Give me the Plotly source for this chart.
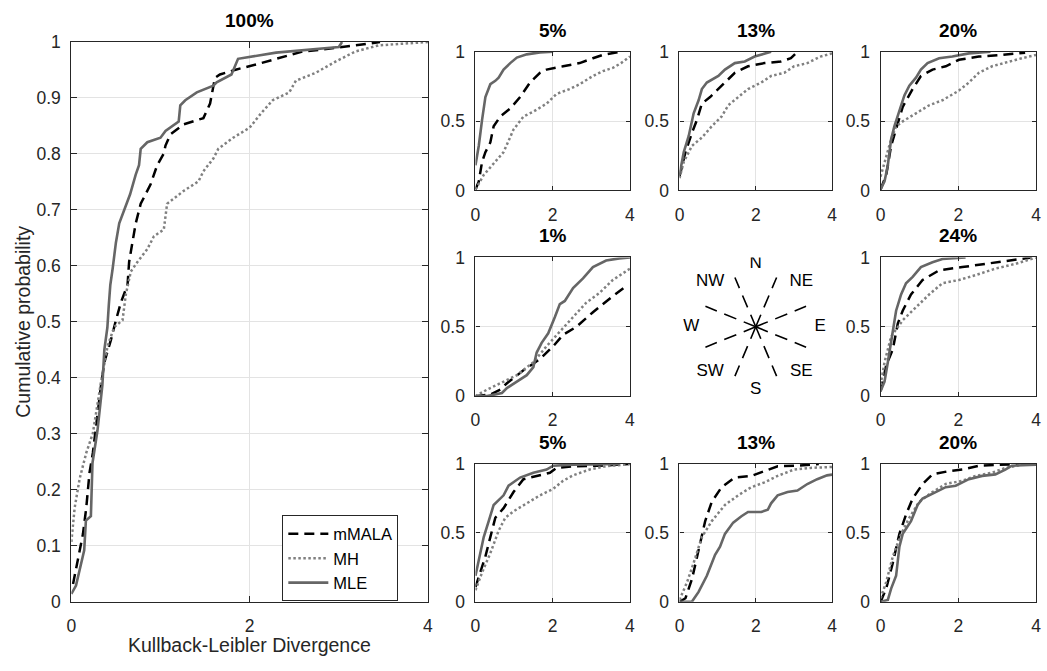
import math
import plotly.graph_objects as go

# ---------------- data ----------------
SERIES = ["mMALA", "MH", "MLE"]
PANEL_TITLES = ["100%", "5%", "13%", "20%", "1%", "24%", "5%", "13%", "20%"]
X_TICKS = [0, 2, 4]
MAIN_Y_TICKS = [0, 0.1, 0.2, 0.3, 0.4, 0.5, 0.6, 0.7, 0.8, 0.9, 1]
SMALL_Y_TICKS = [0, 0.5, 1]
COMPASS_LABELS = ["N", "NE", "E", "SE", "S", "SW", "W", "NW"]
COMPASS_LABEL_ANGLES = [90, 45, 0, -45, -90, -135, 180, 135]
COMPASS_LINE_ANGLES = [22.5, 67.5, 112.5, 157.5, 202.5, 247.5, 292.5, 337.5]

# main panel (100%)
P100_MMALA_X = [0.019, 0.074, 0.13, 0.167, 0.204, 0.241, 0.296, 0.333, 0.37, 0.444, 0.5, 0.556, 0.63, 0.648, 0.685, 0.722, 0.778, 0.889, 0.963, 1.037, 1.056, 1.111, 1.259, 1.481, 1.556, 1.611, 1.667, 1.852, 2.074, 2.333, 2.593, 2.778, 3.0, 3.185, 3.463]
P100_MMALA_Y = [0.032, 0.075, 0.121, 0.168, 0.231, 0.266, 0.341, 0.387, 0.428, 0.468, 0.503, 0.535, 0.566, 0.607, 0.642, 0.676, 0.711, 0.746, 0.78, 0.801, 0.815, 0.835, 0.853, 0.864, 0.89, 0.936, 0.942, 0.951, 0.96, 0.971, 0.983, 0.986, 0.99, 0.994, 1.0]
P100_MH_X = [0, 0.037, 0.093, 0.167, 0.241, 0.333, 0.407, 0.481, 0.574, 0.593, 0.611, 0.667, 0.741, 0.852, 0.926, 1.037, 1.074, 1.259, 1.426, 1.481, 1.593, 1.648, 1.815, 2.0, 2.13, 2.259, 2.444, 2.519, 2.741, 2.963, 3.185, 3.444, 4.0]
P100_MH_Y = [0.107, 0.168, 0.22, 0.266, 0.301, 0.393, 0.457, 0.491, 0.503, 0.526, 0.549, 0.59, 0.607, 0.63, 0.653, 0.665, 0.711, 0.734, 0.751, 0.769, 0.792, 0.809, 0.829, 0.847, 0.873, 0.896, 0.91, 0.931, 0.945, 0.965, 0.983, 0.994, 1.0]
P100_MLE_X = [0, 0.052, 0.144, 0.163, 0.219, 0.237, 0.293, 0.348, 0.37, 0.404, 0.42, 0.437, 0.463, 0.5, 0.537, 0.593, 0.659, 0.722, 0.759, 0.778, 0.852, 1.0, 1.056, 1.204, 1.222, 1.278, 1.407, 1.593, 1.63, 1.796, 1.87, 2.296, 3.0, 3.037]
P100_MLE_Y = [0.014, 0.029, 0.092, 0.145, 0.153, 0.248, 0.306, 0.387, 0.45, 0.49, 0.53, 0.566, 0.595, 0.642, 0.676, 0.7, 0.728, 0.763, 0.78, 0.809, 0.821, 0.829, 0.841, 0.858, 0.887, 0.896, 0.91, 0.922, 0.928, 0.942, 0.97, 0.981, 0.991, 1.0]

# top row 5%
P5T_MLE_X = [0, 0.086, 0.171, 0.257, 0.385, 0.514, 0.6, 0.728, 0.9, 1.071, 1.328, 1.67, 2.01]
P5T_MLE_Y = [0.182, 0.322, 0.509, 0.673, 0.766, 0.79, 0.813, 0.871, 0.918, 0.958, 0.981, 0.995, 1.0]
P5T_MMALA_X = [0, 0.086, 0.171, 0.257, 0.385, 0.471, 0.642, 0.9, 1.156, 1.413, 1.67, 1.841, 2.27, 2.698, 3.04, 3.298, 3.769]
P5T_MMALA_Y = [0.007, 0.065, 0.206, 0.276, 0.346, 0.463, 0.533, 0.591, 0.673, 0.778, 0.848, 0.871, 0.895, 0.918, 0.953, 0.977, 1.0]
P5T_MH_X = [0, 0.214, 0.471, 0.728, 0.985, 1.242, 1.499, 1.841, 2.099, 2.441, 2.698, 3.04, 3.298, 3.555, 3.769, 4.0]
P5T_MH_Y = [0.007, 0.112, 0.194, 0.276, 0.439, 0.533, 0.568, 0.626, 0.696, 0.731, 0.766, 0.825, 0.86, 0.883, 0.918, 0.965]

# top row 13%
P13T_MLE_X = [0, 0.112, 0.242, 0.371, 0.501, 0.587, 0.717, 0.847, 1.019, 1.192, 1.451, 1.711, 1.97, 2.402]
P13T_MLE_Y = [0.112, 0.276, 0.393, 0.556, 0.65, 0.731, 0.778, 0.801, 0.825, 0.871, 0.918, 0.93, 0.965, 1.0]
P13T_MMALA_X = [0, 0.156, 0.328, 0.458, 0.587, 0.803, 1.106, 1.451, 1.797, 2.229, 2.661, 2.92, 3.093]
P13T_MMALA_Y = [0.1, 0.276, 0.416, 0.509, 0.626, 0.673, 0.755, 0.848, 0.895, 0.918, 0.93, 0.953, 1.0]
P13T_MH_X = [0, 0.112, 0.328, 0.587, 0.847, 1.106, 1.279, 1.538, 1.797, 2.143, 2.402, 2.747, 3.006, 3.352, 3.698, 4.0]
P13T_MH_Y = [0.089, 0.206, 0.322, 0.381, 0.463, 0.533, 0.614, 0.673, 0.731, 0.778, 0.825, 0.848, 0.895, 0.918, 0.965, 0.988]

# top row 20%
P20T_MLE_X = [0, 0.102, 0.187, 0.272, 0.357, 0.485, 0.613, 0.74, 0.911, 1.038, 1.209, 1.506, 1.847, 2.272, 2.826]
P20T_MLE_Y = [0.007, 0.065, 0.182, 0.369, 0.463, 0.579, 0.685, 0.755, 0.813, 0.871, 0.918, 0.953, 0.965, 0.988, 1.0]
P20T_MMALA_X = [0, 0.145, 0.272, 0.4, 0.57, 0.826, 1.038, 1.336, 1.677, 2.017, 2.528, 3.123, 3.719]
P20T_MMALA_Y = [0.007, 0.112, 0.322, 0.439, 0.603, 0.731, 0.825, 0.871, 0.895, 0.942, 0.965, 0.977, 0.993]
P20T_MH_X = [0, 0.145, 0.272, 0.4, 0.57, 0.911, 1.251, 1.591, 2.017, 2.272, 2.528, 2.868, 3.294, 3.634, 4.0]
P20T_MH_Y = [0.1, 0.252, 0.369, 0.463, 0.498, 0.556, 0.614, 0.65, 0.72, 0.778, 0.848, 0.895, 0.93, 0.953, 0.977]

# middle row 1%
P1_MLE_X = [0, 0.3, 0.685, 0.814, 1.071, 1.328, 1.499, 1.585, 1.713, 1.884, 2.056, 2.184, 2.313, 2.527, 2.784, 3.041, 3.383, 3.726, 4.0]
P1_MLE_Y = [0, 0, 0.023, 0.058, 0.105, 0.151, 0.209, 0.314, 0.384, 0.453, 0.57, 0.663, 0.686, 0.779, 0.849, 0.93, 0.977, 0.993, 1.0]
P1_MMALA_X = [0, 0.385, 0.642, 0.814, 1.242, 1.67, 2.013, 2.27, 2.612, 3.041, 3.555, 3.897]
P1_MMALA_Y = [0, 0.012, 0.047, 0.093, 0.186, 0.267, 0.36, 0.442, 0.5, 0.605, 0.721, 0.791]
P1_MH_X = [0, 0.3, 0.642, 1.071, 1.499, 1.841, 2.184, 2.527, 2.869, 3.212, 3.555, 4.0]
P1_MH_Y = [0, 0.047, 0.093, 0.151, 0.244, 0.36, 0.465, 0.57, 0.674, 0.744, 0.837, 0.919]

# middle row 24%
P24_MLE_X = [0, 0.102, 0.187, 0.272, 0.4, 0.528, 0.655, 0.826, 1.038, 1.336, 1.591, 2.187]
P24_MLE_Y = [0.035, 0.105, 0.244, 0.407, 0.616, 0.733, 0.814, 0.86, 0.93, 0.965, 0.988, 1.0]
P24_MMALA_X = [0, 0.145, 0.315, 0.443, 0.57, 0.783, 1.081, 1.506, 2.102, 2.698, 3.294, 3.889]
P24_MMALA_Y = [0.035, 0.221, 0.337, 0.523, 0.616, 0.733, 0.837, 0.907, 0.93, 0.953, 0.977, 1.0]
P24_MH_X = [0, 0.102, 0.272, 0.57, 0.911, 1.251, 1.591, 2.017, 2.443, 2.953, 3.464, 4.0]
P24_MH_Y = [0.081, 0.244, 0.43, 0.547, 0.64, 0.733, 0.814, 0.837, 0.872, 0.919, 0.953, 1.0]

# bottom row 5%
P5B_MLE_X = [0, 0.128, 0.214, 0.343, 0.471, 0.6, 0.728, 0.857, 0.985, 1.156, 1.499, 1.841, 2.013, 2.527, 3.726]
P5B_MLE_Y = [0.189, 0.353, 0.47, 0.586, 0.703, 0.738, 0.773, 0.843, 0.867, 0.902, 0.937, 0.96, 0.988, 0.995, 1.0]
P5B_MMALA_X = [0, 0.128, 0.257, 0.385, 0.514, 0.728, 0.985, 1.242, 1.585, 1.927, 2.098, 2.527, 3.212, 3.966]
P5B_MMALA_Y = [0.107, 0.213, 0.329, 0.47, 0.61, 0.68, 0.797, 0.89, 0.914, 0.937, 0.972, 0.984, 0.988, 1.0]
P5B_MH_X = [0, 0.171, 0.385, 0.6, 0.771, 0.985, 1.328, 1.67, 2.013, 2.27, 2.527, 2.955, 3.383, 4.0]
P5B_MH_Y = [0.084, 0.213, 0.353, 0.516, 0.61, 0.657, 0.715, 0.773, 0.82, 0.879, 0.918, 0.96, 0.984, 1.0]

# bottom row 13%
P13B_MLE_X = [0, 0.328, 0.501, 0.717, 0.933, 1.063, 1.192, 1.408, 1.624, 1.797, 2.143, 2.315, 2.402, 2.574, 2.834, 3.093, 3.352, 3.611, 3.87, 4.0]
P13B_MLE_Y = [0, 0.002, 0.072, 0.189, 0.341, 0.4, 0.493, 0.575, 0.621, 0.652, 0.652, 0.668, 0.715, 0.773, 0.797, 0.808, 0.855, 0.89, 0.918, 0.923]
P13B_MMALA_X = [0, 0.156, 0.328, 0.544, 0.674, 0.847, 1.106, 1.451, 1.883, 2.229, 2.575, 3.093, 3.654]
P13B_MMALA_Y = [0, 0.026, 0.166, 0.423, 0.586, 0.727, 0.832, 0.902, 0.914, 0.949, 0.984, 0.988, 1.0]
P13B_MH_X = [0, 0.199, 0.371, 0.587, 0.847, 1.192, 1.538, 1.883, 2.229, 2.575, 3.006, 3.438, 4.0]
P13B_MH_Y = [0.014, 0.143, 0.283, 0.47, 0.586, 0.703, 0.773, 0.832, 0.867, 0.914, 0.96, 0.972, 0.979]

# bottom row 20%
P20B_MLE_X = [0, 0.187, 0.272, 0.4, 0.485, 0.57, 0.783, 0.953, 1.081, 1.336, 1.677, 1.932, 2.272, 2.613, 2.953, 3.209, 3.379, 4.0]
P20B_MLE_Y = [0, 0.014, 0.096, 0.189, 0.4, 0.493, 0.586, 0.703, 0.75, 0.785, 0.832, 0.843, 0.89, 0.914, 0.925, 0.96, 0.988, 0.995]
P20B_MMALA_X = [0, 0.145, 0.315, 0.485, 0.655, 0.826, 1.081, 1.336, 1.762, 2.102, 2.528, 3.123, 3.549]
P20B_MMALA_Y = [0, 0.096, 0.283, 0.493, 0.633, 0.75, 0.855, 0.925, 0.949, 0.96, 0.988, 0.995, 1.0]
P20B_MH_X = [0, 0.145, 0.315, 0.528, 0.74, 0.996, 1.336, 1.677, 2.102, 2.443, 2.868, 3.209, 3.634, 4.0]
P20B_MH_Y = [0.026, 0.143, 0.329, 0.493, 0.61, 0.727, 0.797, 0.855, 0.879, 0.914, 0.937, 0.972, 0.995, 1.0]

# ---------------- layout geometry (pixels) ----------------
W, H = 1047, 671
FONT = "Liberation Sans, Arial, Helvetica, sans-serif"
TXT = "#262626"

def px_x(a, b):
    return [a / W, b / W]

def px_y(top, bottom):
    return [(H - bottom) / H, (H - top) / H]

MAIN_DOM = (px_x(67, 427), px_y(33, 610))
COLS = [px_x(475, 631), px_x(681, 835), px_x(884, 1041)]
ROWS = [px_y(43, 186), px_y(255, 398), px_y(468, 610)]

STYLE = {
    "mMALA": dict(color="black", width=2.5, dash="10px,6px"),
    "MH": dict(color="#808080", width=2.5, dash="2.5px,2.5px"),
    "MLE": dict(color="#666666", width=2.6, dash="solid"),
}

panels = [
    ("100%", MAIN_DOM, {"mMALA": (P100_MMALA_X, P100_MMALA_Y), "MH": (P100_MH_X, P100_MH_Y), "MLE": (P100_MLE_X, P100_MLE_Y)}, True),
    ("5%", (COLS[0], ROWS[0]), {"mMALA": (P5T_MMALA_X, P5T_MMALA_Y), "MH": (P5T_MH_X, P5T_MH_Y), "MLE": (P5T_MLE_X, P5T_MLE_Y)}, False),
    ("13%", (COLS[1], ROWS[0]), {"mMALA": (P13T_MMALA_X, P13T_MMALA_Y), "MH": (P13T_MH_X, P13T_MH_Y), "MLE": (P13T_MLE_X, P13T_MLE_Y)}, False),
    ("20%", (COLS[2], ROWS[0]), {"mMALA": (P20T_MMALA_X, P20T_MMALA_Y), "MH": (P20T_MH_X, P20T_MH_Y), "MLE": (P20T_MLE_X, P20T_MLE_Y)}, False),
    ("1%", (COLS[0], ROWS[1]), {"mMALA": (P1_MMALA_X, P1_MMALA_Y), "MH": (P1_MH_X, P1_MH_Y), "MLE": (P1_MLE_X, P1_MLE_Y)}, False),
    ("24%", (COLS[2], ROWS[1]), {"mMALA": (P24_MMALA_X, P24_MMALA_Y), "MH": (P24_MH_X, P24_MH_Y), "MLE": (P24_MLE_X, P24_MLE_Y)}, False),
    ("5%", (COLS[0], ROWS[2]), {"mMALA": (P5B_MMALA_X, P5B_MMALA_Y), "MH": (P5B_MH_X, P5B_MH_Y), "MLE": (P5B_MLE_X, P5B_MLE_Y)}, False),
    ("13%", (COLS[1], ROWS[2]), {"mMALA": (P13B_MMALA_X, P13B_MMALA_Y), "MH": (P13B_MH_X, P13B_MH_Y), "MLE": (P13B_MLE_X, P13B_MLE_Y)}, False),
    ("20%", (COLS[2], ROWS[2]), {"mMALA": (P20B_MMALA_X, P20B_MMALA_Y), "MH": (P20B_MH_X, P20B_MH_Y), "MLE": (P20B_MLE_X, P20B_MLE_Y)}, False),
]

fig = go.Figure()
layout = dict(
    width=W, height=H, autosize=False,
    margin=dict(l=0, r=0, t=0, b=0),
    paper_bgcolor="white", plot_bgcolor="white",
    font=dict(family=FONT, color=TXT, size=17),
    showlegend=True,
)
annotations = []

TICK_FONT = dict(family=FONT, size=17.5, color=TXT)

def axis_common(domain, is_main):
    return dict(
        domain=domain, showline=True, linecolor="#262626", linewidth=1.2,
        mirror="ticks", ticks="inside", ticklen=6 if is_main else 4,
        tickwidth=1, tickcolor="#262626",
        showgrid=True, gridcolor="#e3e3e3", gridwidth=1, zeroline=False,
        tickfont=TICK_FONT, fixedrange=True,
    )

for i, (title, (xd, yd), data, is_main) in enumerate(panels):
    n = "" if i == 0 else str(i + 1)
    xa = axis_common(xd, is_main)
    xa.update(range=[0, 4], tickvals=X_TICKS, ticktext=[str(v) for v in X_TICKS],
              anchor="y" + n, ticklabelstandoff=8)
    ya = axis_common(yd, is_main)
    yt = MAIN_Y_TICKS if is_main else SMALL_Y_TICKS
    ya.update(range=[0, 1], tickvals=yt, ticktext=[("%g" % v) for v in yt],
              anchor="x" + n, ticklabelstandoff=6)
    layout["xaxis" + n] = xa
    layout["yaxis" + n] = ya
    for s in SERIES:
        xs, ys = data[s]
        st = STYLE[s]
        fig.add_trace(go.Scatter(
            x=xs, y=ys, mode="lines", name=s, legendgroup=s,
            showlegend=is_main,
            line=dict(color=st["color"], width=st["width"], dash=st["dash"]),
            xaxis="x" + n, yaxis="y" + n, hoverinfo="skip",
        ))
    annotations.append(dict(
        text="<b>%s</b>" % title, x=(xd[0] + xd[1]) / 2, y=yd[1],
        xref="paper", yref="paper", xanchor="center", yanchor="bottom",
        yshift=9, showarrow=False, font=dict(family=FONT, size=19, color="black"),
    ))

# compass panel (middle)
cx_dom, cy_dom = COLS[1], ROWS[1]
cw = (cx_dom[1] - cx_dom[0]) * W
ch = (cy_dom[1] - cy_dom[0]) * H
k = len(panels) + 1
layout["xaxis%d" % k] = dict(domain=cx_dom, range=[-cw / 2, cw / 2], visible=False,
                             anchor="y%d" % k, fixedrange=True)
layout["yaxis%d" % k] = dict(domain=cy_dom, range=[-ch / 2, ch / 2], visible=False,
                             anchor="x%d" % k, fixedrange=True)
R_LINE, R_LABEL = 55, 65
for a in COMPASS_LINE_ANGLES:
    t = math.radians(a)
    fig.add_trace(go.Scatter(
        x=[0, R_LINE * math.cos(t)], y=[0, R_LINE * math.sin(t)], mode="lines",
        line=dict(color="black", width=1.6, dash="13px,8px"), showlegend=False,
        xaxis="x%d" % k, yaxis="y%d" % k, hoverinfo="skip",
    ))
fig.add_trace(go.Scatter(
    x=[R_LABEL * math.cos(math.radians(a)) for a in COMPASS_LABEL_ANGLES],
    y=[R_LABEL * math.sin(math.radians(a)) for a in COMPASS_LABEL_ANGLES],
    text=COMPASS_LABELS, mode="text", textposition="middle center",
    textfont=dict(family=FONT, size=17, color="black"), showlegend=False,
    xaxis="x%d" % k, yaxis="y%d" % k, hoverinfo="skip",
))

# axis labels
annotations.append(dict(
    text="Kullback-Leibler Divergence", x=(MAIN_DOM[0][0] + MAIN_DOM[0][1]) / 2,
    y=(H - 655) / H, xref="paper", yref="paper", xanchor="center", yanchor="middle",
    showarrow=False, font=dict(family=FONT, size=19.5, color=TXT),
))
annotations.append(dict(
    text="Cumulative probability", x=18 / W, y=(MAIN_DOM[1][0] + MAIN_DOM[1][1]) / 2,
    xref="paper", yref="paper", xanchor="center", yanchor="middle", textangle=-90,
    showarrow=False, font=dict(family=FONT, size=19.5, color=TXT),
))
layout["annotations"] = annotations

layout["legend"] = dict(
    x=280 / W, y=(H - 521) / H, xanchor="left", yanchor="top",
    bgcolor="white", bordercolor="#262626", borderwidth=1,
    font=dict(family=FONT, size=16.5, color="black"),
    tracegroupgap=0, itemwidth=40,
)

fig.update_layout(**layout)
fig.write_html("out.html")
